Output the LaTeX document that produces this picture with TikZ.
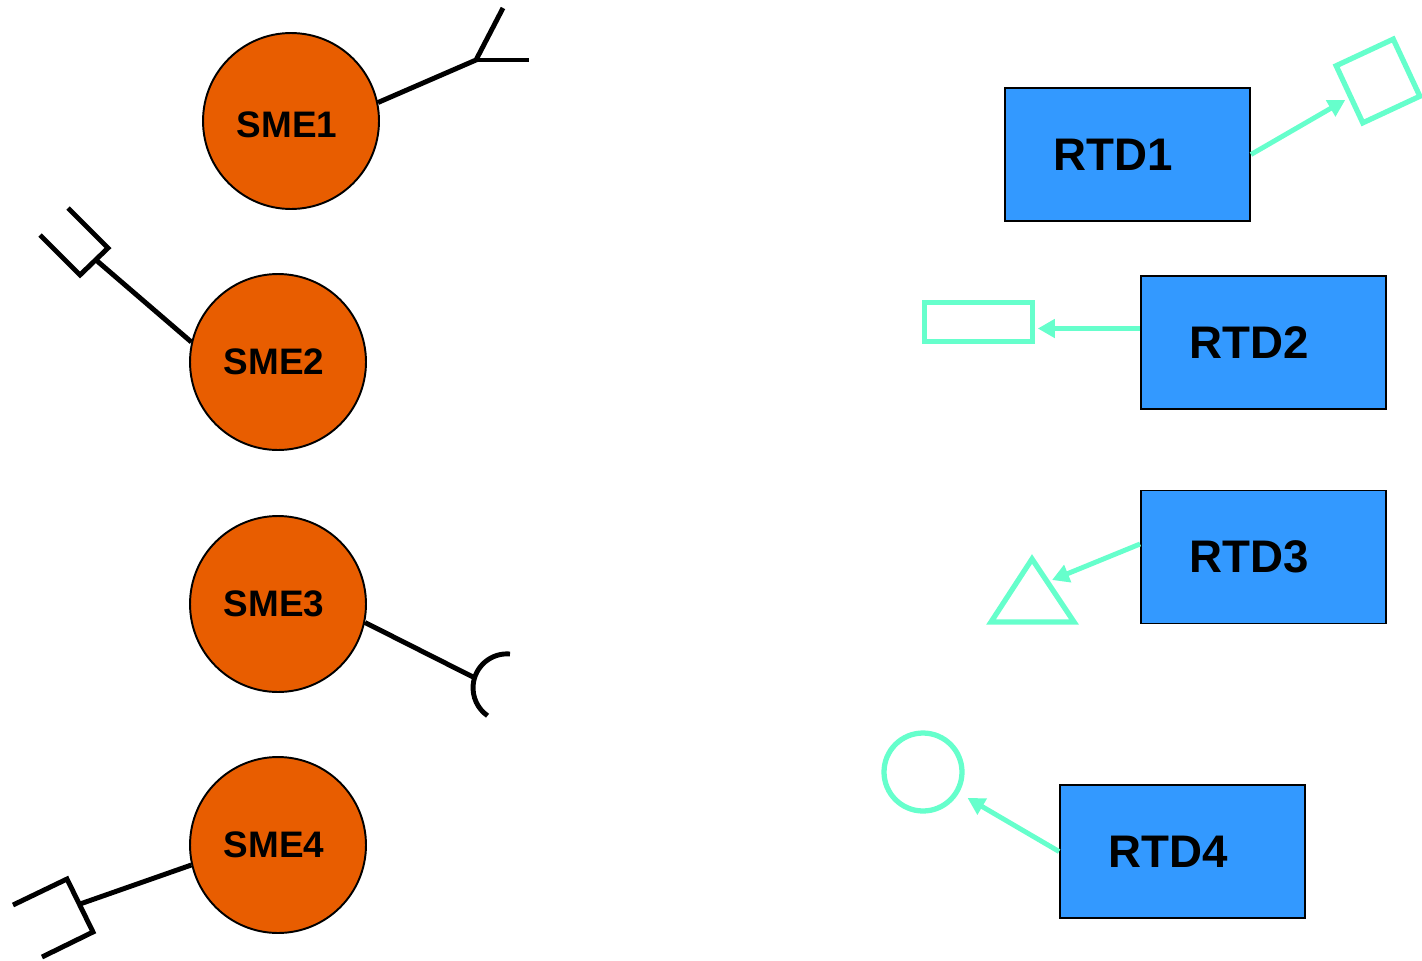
\documentclass[tikz,border=0pt]{standalone}
\usepackage{fontspec}
\setmainfont{Liberation Sans}
\usetikzlibrary{arrows.meta,calc}
\definecolor{smeorange}{HTML}{E85D00}
\definecolor{rtdblue}{HTML}{3399FF}
\definecolor{aqua}{HTML}{66FFCC}
\begin{document}
\begin{tikzpicture}[x=0.02cm,y=-0.02cm,
  sme/.style={circle, draw=black, line width=1.1pt, fill=smeorange, minimum size=3.52cm, inner sep=0pt, font=\fontsize{21}{25}\selectfont\bfseries},
  rtd/.style={rectangle, draw=black, line width=1.1pt, fill=rtdblue, minimum width=4.9cm, minimum height=2.66cm, inner sep=0pt, font=\fontsize{26}{30}\selectfont\bfseries},
  stub/.style={line width=2.8pt, draw=black},
  conn/.style={line width=2.8pt, draw=aqua, -{Triangle[length=0.34cm,width=0.36cm]}},
  outline/.style={draw=aqua, line width=3pt, fill=none, inner sep=0pt},
  outlinepath/.style={draw=aqua, line width=3pt, line join=miter}]
\useasboundingbox (0,0) rectangle (1422,960);

% SME circles
\node[sme, text height=0.67cm, text depth=0pt] (sme1) at (291,121) {SME1\kern0.16cm};
\node[sme] (sme2) at (278,362) {SME2\kern0.16cm};
\node[sme] (sme3) at (278,604) {SME3\kern0.16cm};
\node[sme] (sme4) at (278,845) {SME4\kern0.16cm};

% SME1 Y stub
\coordinate (j1) at (476,60);
\coordinate (y1a) at (503,8);
\coordinate (y1b) at (529,60);
\draw[stub] (sme1.12.5) -- (j1) -- (y1a);
\draw[stub] (j1) -- (y1b);

% SME2 fork stub
\coordinate (j2) at (96,260);
\coordinate (c2a) at (80,275);
\coordinate (c2b) at (108,248);
\coordinate (p2a) at (40,235);
\coordinate (p2b) at (68,208);
\draw[stub] (sme2.167) -- (j2);
\draw[stub] (p2a) -- (c2a) -- (c2b) -- (p2b);

% SME3 socket stub
\coordinate (j3) at (475,678);
\coordinate (a3) at (510,654);
\draw[stub] (sme3.-12.7) -- (j3);
\draw[stub] (a3) arc[start angle=-85, end angle=-235, radius=34];

% SME4 fork stub
\coordinate (j4) at (80,904);
\coordinate (c4a) at (67,879);
\coordinate (c4b) at (93,932);
\coordinate (p4a) at (13,905);
\coordinate (p4b) at (42,957);
\draw[stub] (sme4.193) -- (j4);
\draw[stub] (p4a) -- (c4a) -- (c4b) -- (p4b);

% RTD boxes
\node[rtd] (rtd1) at (1127.5,154.5) {RTD1\kern0.56cm};
\node[rtd] (rtd2) at (1263.5,342.5) {RTD2\kern0.56cm};
\node[rtd] (rtd3) at (1263.5,557) {RTD3\kern0.56cm};
\node[rtd] (rtd4) at (1182.5,851.5) {RTD4\kern0.56cm};

% RTD1 -> square
\node[outline, rectangle, minimum size=1.26cm, rotate=25] (sq) at (1378,81) {};
\draw[conn, shorten >=2pt] (rtd1.east) -- (sq);

% RTD2 -> rectangle
\node[outline, rectangle, minimum width=2.16cm, minimum height=0.79cm] (r2) at (978.5,322) {};
\coordinate (s2) at ($(rtd2.west)+(0,-14)$);
\draw[conn, shorten >=1.5pt] (s2) -- (s2 -| r2.east);

% RTD3 -> triangle
\coordinate (t3a) at (1032,559);
\coordinate (t3b) at (991,622);
\coordinate (t3c) at (1074,622);
\draw[outlinepath] (t3a) -- (t3b) -- (t3c) -- cycle;
\coordinate (s3) at ($(rtd3.west)+(0,-13)$);
\coordinate (e3) at (1052,580);
\draw[conn] (s3) -- (e3);

% RTD4 -> circle
\node[outline, circle, minimum size=1.56cm] (c4) at (923,772) {};
\draw[conn, shorten >=0.2cm] (rtd4.west) -- (c4);
\end{tikzpicture}
\end{document}
